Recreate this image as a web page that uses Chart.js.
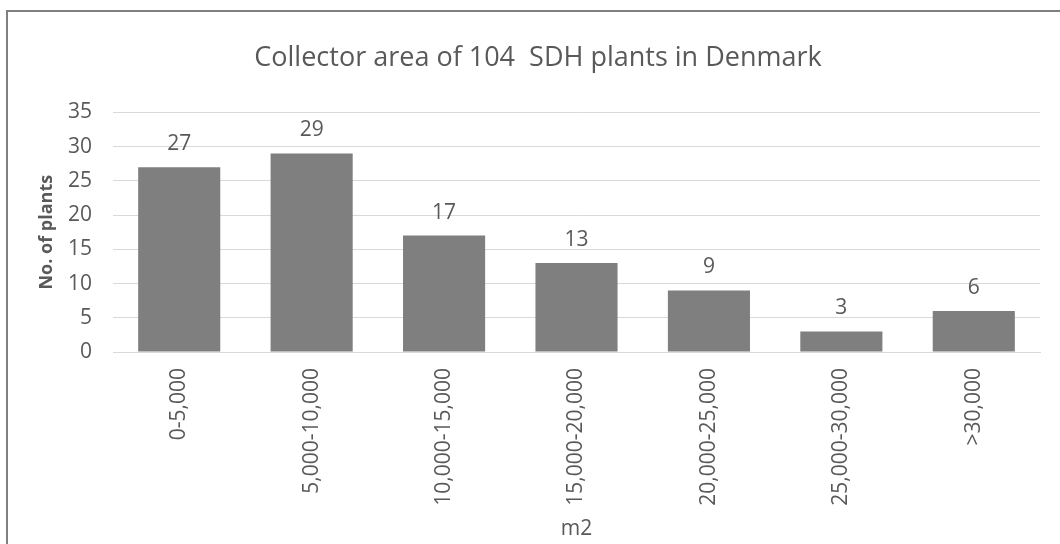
<!DOCTYPE html>
<html lang="en">
<head>
    <meta charset="UTF-8">
    <title>Collector area of 104 SDH plants in Denmark</title>
    <script src="https://cdn.jsdelivr.net/npm/chart.js"></script>
    <style>
        html, body { margin: 0; padding: 0; background: #fff; }
        .chart-container { width: 1060px; height: 544px; position: relative; }
    </style>
</head>
<body>
    <div class="chart-container">
        <canvas id="areaChart"></canvas>
    </div>

    <script>
        const sizeClasses = ['0-5,000', '5,000-10,000', '10,000-15,000', '15,000-20,000',
                             '20,000-25,000', '25,000-30,000', '>30,000'];
        const plantCounts = [27, 29, 17, 13, 9, 3, 6];
        const yTicks = [0, 5, 10, 15, 20, 25, 30, 35];

        const textGray = '#595959';
        const fontName = "'Open Sans', 'DejaVu Sans', sans-serif";

        // value labels above each bar
        const barLabels = {
            id: 'barLabels',
            afterDatasetsDraw(chart) {
                const ctx = chart.ctx;
                const meta = chart.getDatasetMeta(0);
                ctx.save();
                ctx.fillStyle = textGray;
                ctx.font = '21px ' + fontName;
                ctx.textAlign = 'center';
                ctx.textBaseline = 'alphabetic';
                meta.data.forEach((bar, i) => {
                    ctx.fillText(String(plantCounts[i]), bar.x, bar.y - 17);
                });
                ctx.restore();
            }
        };

        // frame line on top and left like the original chart box
        const frame = {
            id: 'frame',
            beforeDraw(chart) {
                const ctx = chart.ctx;
                ctx.save();
                ctx.strokeStyle = '#808080';
                ctx.lineWidth = 2;
                ctx.beginPath();
                ctx.moveTo(7, chart.height);
                ctx.lineTo(7, 11);
                ctx.lineTo(chart.width, 11);
                ctx.stroke();
                ctx.restore();
            }
        };

        const ctx = document.getElementById('areaChart').getContext('2d');
        new Chart(ctx, {
            type: 'bar',
            data: {
                labels: sizeClasses,
                datasets: [{
                    label: 'No. of plants',
                    data: plantCounts,
                    backgroundColor: '#7f7f7f',
                    borderWidth: 0,
                    barPercentage: 0.62,
                    categoryPercentage: 1.0
                }]
            },
            options: {
                responsive: true,
                maintainAspectRatio: false,
                animation: false,
                layout: {
                    padding: { top: 10, left: 36, right: 20, bottom: 2 }
                },
                scales: {
                    x: {
                        afterFit(scale) { scale.height = 190; },
                        grid: { display: false, drawTicks: false },
                        border: { color: '#d9d9d9', width: 1 },
                        ticks: {
                            color: textGray,
                            font: { family: fontName, size: 21 },
                            minRotation: 90,
                            maxRotation: 90,
                            padding: 16,
                            autoSkip: false
                        },
                        title: {
                            display: true,
                            text: 'm2',
                            color: textGray,
                            font: { family: fontName, size: 21 },
                            padding: 0
                        }
                    },
                    y: {
                        min: 0,
                        max: 35,
                        afterFit(scale) { scale.width = 77; },
                        afterBuildTicks(scale) {
                            scale.ticks = yTicks.map(v => ({ value: v }));
                        },
                        grid: { color: '#d9d9d9', lineWidth: 1, drawTicks: false },
                        border: { display: false },
                        ticks: {
                            color: textGray,
                            font: { family: fontName, size: 21 },
                            padding: 21
                        },
                        title: {
                            display: true,
                            text: 'No. of plants',
                            color: textGray,
                            font: { family: fontName, size: 18, weight: 'bold' },
                            padding: 0
                        }
                    }
                },
                plugins: {
                    legend: { display: false },
                    tooltip: { enabled: false },
                    title: {
                        display: true,
                        text: 'Collector area of 104  SDH plants in Denmark',
                        color: textGray,
                        font: { family: fontName, size: 27, weight: 'normal' },
                        padding: { top: 32, bottom: 38 }
                    }
                }
            },
            plugins: [barLabels, frame]
        });
    </script>
</body>
</html>
